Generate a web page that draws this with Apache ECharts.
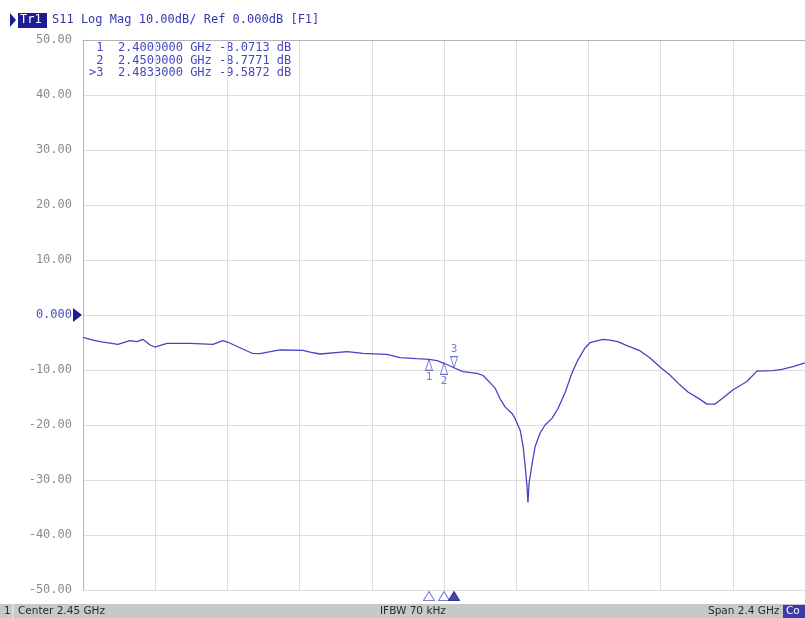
<!DOCTYPE html>
<html>
<head>
<meta charset="utf-8">
<script src="https://cdn.jsdelivr.net/npm/echarts@6/dist/echarts.min.js"></script>
<style>
  html, body { margin: 0; padding: 0; background: #ffffff; }
  #chart { width: 805px; height: 618px; }
</style>
</head>
<body>
<div id="chart"></div>
<script>
// S11 sweep: frequency (GHz) and log magnitude (dB)
const freqGHz = [
  1.250, 1.283, 1.307, 1.366, 1.406, 1.430, 1.449, 1.473, 1.489, 1.529,
  1.606, 1.682, 1.715, 1.732, 1.772, 1.812, 1.838, 1.882, 1.905, 1.981,
  2.005, 2.038, 2.128, 2.181, 2.260, 2.304, 2.360, 2.400, 2.427, 2.450,
  2.4833, 2.513, 2.560, 2.580, 2.603, 2.620, 2.636, 2.653, 2.676, 2.686,
  2.703, 2.713, 2.719, 2.726, 2.729, 2.733, 2.743, 2.753, 2.769, 2.786,
  2.809, 2.829, 2.852, 2.875, 2.895, 2.918, 2.935, 2.978, 3.001, 3.028,
  3.058, 3.101, 3.134, 3.167, 3.201, 3.234, 3.261, 3.300, 3.324, 3.351,
  3.377, 3.411, 3.457, 3.490, 3.544, 3.573, 3.610, 3.650
];
const s11dB = [
  -4.05, -4.55, -4.85, -5.33, -4.67, -4.85, -4.42, -5.45, -5.82, -5.15,
  -5.15, -5.33, -4.67, -4.96, -5.95, -6.96, -7.04, -6.55, -6.36, -6.45,
  -6.73, -7.09, -6.67, -6.96, -7.15, -7.75, -7.95, -8.0713, -8.30, -8.7771,
  -9.5872, -10.30, -10.60, -11.00, -12.30, -13.30, -15.20, -16.70, -17.90, -18.80,
  -20.90, -23.90, -27.00, -31.20, -34.10, -30.50, -27.00, -23.90, -21.50, -20.00,
  -18.80, -17.00, -14.20, -10.60, -8.20, -6.05, -5.04, -4.42, -4.55, -4.85,
  -5.58, -6.49, -7.76, -9.40, -10.90, -12.70, -14.00, -15.30, -16.20, -16.20,
  -15.10, -13.60, -12.10, -10.20, -10.10, -9.90, -9.40, -8.70
];

// Marker table
const markerIds = ['1', '2', '3'];
const markerFreq = [2.4000000, 2.4500000, 2.4833000];
const markerDB = [-8.0713, -8.7771, -9.5872];
const activeMarker = 2;

// Sweep settings and scale
const sweepStart = 1.25;
const sweepStop = 3.65;
const scaleMin = -50;
const scaleMax = 50;
const scaleStep = 10;
const divisions = 10;

// Header and status bar text
const traceTag = 'Tr1';
const traceInfo = 'S11 Log Mag 10.00dB/ Ref 0.000dB [F1]';
const statusChannel = '1';
const statusCenter = 'Center 2.45 GHz';
const statusIfbw = 'IFBW 70 kHz';
const statusSpan = 'Span 2.4 GHz';
const statusTail = 'Co';

const TRACE = '#4444c6';
const MARK = '#4a4ac4';
const NAVY = '#1c1c96';
const MONO = '"DejaVu Sans Mono", monospace';
const SANS = '"DejaVu Sans", sans-serif';

const traceData = freqGHz.map((f, i) => [f, s11dB[i]]);

const readout = markerIds.map((id, i) =>
  (i === activeMarker ? '>' : ' ') + id + '  ' + markerFreq[i].toFixed(7) +
  ' GHz ' + markerDB[i].toFixed(4) + ' dB').join('\n');

const onTrace = markerIds.map((id, i) => {
  const up = i !== activeMarker;
  return {
    value: [markerFreq[i], markerDB[i]],
    name: id,
    symbol: 'triangle',
    symbolRotate: up ? 0 : 180,
    symbolOffset: [0, up ? 5.5 : -5.5],
    label: { position: up ? 'bottom' : 'top', distance: 1 }
  };
});

const stimulus = markerIds.map((id, i) => ({
  value: [markerFreq[i], scaleMin],
  itemStyle: i === activeMarker
    ? { color: NAVY, borderColor: NAVY }
    : { color: '#ffffff', borderColor: '#5a5ad0' }
}));

const chart = echarts.init(document.getElementById('chart'), null, { renderer: 'canvas' });

chart.setOption({
  animation: false,
  backgroundColor: '#ffffff',
  grid: { left: 83, right: 0, top: 40, bottom: 28, containLabel: false },
  xAxis: [
    {
      type: 'value', min: sweepStart, max: sweepStop,
      show: true,
      axisLine: { show: false }, axisTick: { show: false },
      axisLabel: { show: false }, splitLine: { show: false }
    },
    {
      type: 'value', min: 0, max: divisions, interval: 1,
      axisLine: { show: true, lineStyle: { color: '#b4b4b4', width: 1 } },
      axisTick: { show: false }, axisLabel: { show: false },
      splitLine: { show: true, lineStyle: { color: '#dedede', width: 1 } }
    }
  ],
  yAxis: {
    type: 'value', min: scaleMin, max: scaleMax, interval: scaleStep,
    axisLine: { show: true, onZero: false, lineStyle: { color: '#b4b4b4', width: 1 } },
    axisTick: { show: false },
    splitLine: { show: true, lineStyle: { color: '#dedede', width: 1 } },
    axisLabel: {
      margin: 11,
      fontFamily: MONO, fontSize: 12, color: '#8c8c8c',
      formatter: v => v === 0 ? '{ref|0.000}' : v.toFixed(2),
      rich: { ref: { fontFamily: MONO, fontSize: 12, color: '#4a4ac8' } }
    }
  },
  series: [
    {
      type: 'line', xAxisIndex: 0, data: traceData,
      showSymbol: false, smooth: false,
      lineStyle: { color: TRACE, width: 1.3 }
    },
    {
      type: 'scatter', xAxisIndex: 0, data: onTrace, clip: false,
      symbolSize: [7, 11],
      itemStyle: { color: '#ffffff', borderColor: MARK, borderWidth: 1 },
      label: {
        show: true, formatter: p => p.name,
        fontFamily: MONO, fontSize: 11, color: '#5a5ad0'
      },
      z: 5
    },
    {
      type: 'scatter', xAxisIndex: 0, data: stimulus, clip: false,
      symbol: 'triangle', symbolSize: [11, 9], symbolOffset: [0, 6],
      itemStyle: { borderWidth: 1 },
      z: 5
    }
  ],
  graphic: [
    // header line
    { type: 'polygon', shape: { points: [[10, 13], [16, 20], [10, 27]] }, style: { fill: NAVY } },
    { type: 'rect', shape: { x: 18, y: 13, width: 29, height: 15 }, style: { fill: NAVY } },
    { type: 'text', x: 20, y: 20, style: { text: traceTag, fill: '#ffffff', font: '12px ' + MONO, textVerticalAlign: 'middle' } },
    { type: 'text', x: 52, y: 20, style: { text: traceInfo, fill: '#3636b0', font: '12px ' + MONO, textVerticalAlign: 'middle' } },
    // reference level pointer
    { type: 'polygon', shape: { points: [[73, 308], [82, 315], [73, 322]] }, style: { fill: NAVY } },
    // marker readout
    { type: 'text', x: 89, y: 42, style: { text: readout, fill: '#4646c0', font: '12px ' + MONO, lineHeight: 12.5 } },
    // status bar
    { type: 'rect', shape: { x: 0, y: 604, width: 805, height: 14 }, style: { fill: '#c8c8c8' } },
    { type: 'line', shape: { x1: 13, y1: 604, x2: 13, y2: 618 }, style: { stroke: '#f0f0f0', lineWidth: 1 } },
    { type: 'text', x: 4, y: 611, style: { text: statusChannel, fill: '#2a2a2a', font: '10.5px ' + SANS, textVerticalAlign: 'middle' } },
    { type: 'text', x: 18, y: 611, style: { text: statusCenter, fill: '#2a2a2a', font: '10.5px ' + SANS, textVerticalAlign: 'middle' } },
    { type: 'text', x: 380, y: 611, style: { text: statusIfbw, fill: '#2a2a2a', font: '10.5px ' + SANS, textVerticalAlign: 'middle' } },
    { type: 'text', x: 708, y: 611, style: { text: statusSpan, fill: '#2a2a2a', font: '10.5px ' + SANS, textVerticalAlign: 'middle' } },
    { type: 'rect', shape: { x: 783, y: 605, width: 22, height: 13 }, style: { fill: '#3a3aa8' } },
    { type: 'text', x: 786, y: 611, style: { text: statusTail, fill: '#ffffff', font: '10.5px ' + SANS, textVerticalAlign: 'middle' } }
  ]
});
</script>
</body>
</html>
